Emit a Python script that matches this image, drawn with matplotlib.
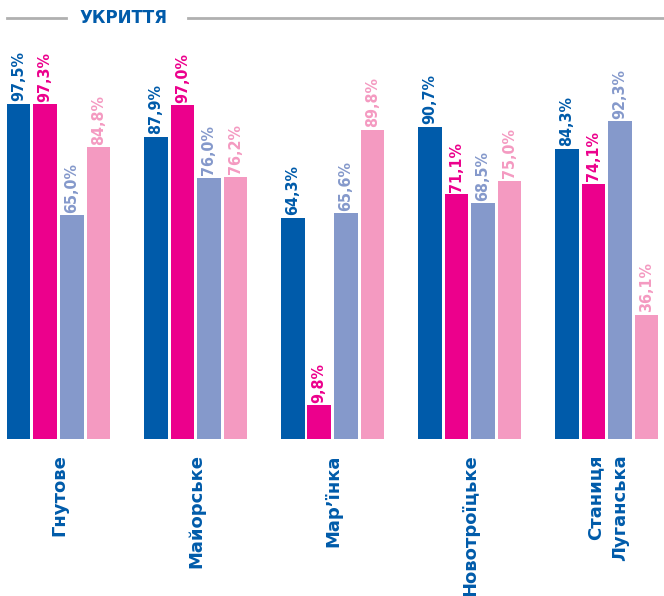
import matplotlib
matplotlib.use('Agg')
import numpy as np
import matplotlib.pyplot as plt

# населені пункти та значення (4 серії на кожен)
towns = ['Гнутове', 'Майорське', 'Мар’їнка', 'Новотроїцьке', 'Станиця\nЛуганська']
s1 = [97.5, 87.9, 64.3, 90.7, 84.3]
s2 = [97.3, 97.0, 9.8, 71.1, 74.1]
s3 = [65.0, 76.0, 65.6, 68.5, 92.3]
s4 = [84.8, 76.2, 89.8, 75.0, 36.1]

series = [s1, s2, s3, s4]
colors = ['#005baa', '#ec008c', '#8599cb', '#f49ac1']

fig = plt.figure(figsize=(6.64, 5.96), dpi=100)
ax = fig.add_axes([0, 157 / 596, 1, 344 / 596])

x = np.arange(len(towns))
pitch = 26.5 / 137
width = 23.5 / 137
for i, (vals, c) in enumerate(zip(series, colors)):
    pos = x + (i - 1.5) * pitch
    ax.bar(pos, vals, width=width, color=c)
    for px, v in zip(pos, vals):
        ax.text(px, v + 0.8, f'{v:.1f}%'.replace('.', ','), rotation=90,
                ha='center', va='bottom', color=c, fontsize=11.5,
                fontweight='bold', fontstretch='condensed')

ax.set_xlim(-58.5 / 137, (664 - 58.5) / 137)
ax.set_ylim(0, 100)
ax.axis('off')

# підписи під групами
for xi, t in zip(x, towns):
    ax.text(xi + 0.01, -4.5, t, rotation=90, ha='center', va='top', color='#005baa',
            fontsize=13, fontweight='bold', linespacing=1.5, multialignment='right')

# заголовок з сірими лініями
fig.text(123 / 664, 1 - 18 / 596, 'УКРИТТЯ', ha='center', va='center',
         color='#005baa', fontsize=12, fontweight='bold')
fig.add_artist(plt.Line2D([7 / 664, 66 / 664], [1 - 18 / 596] * 2, color='#b0b0b0', lw=2))
fig.add_artist(plt.Line2D([188 / 664, 1], [1 - 18 / 596] * 2, color='#b0b0b0', lw=2))

fig.savefig('out.png', dpi=100)
